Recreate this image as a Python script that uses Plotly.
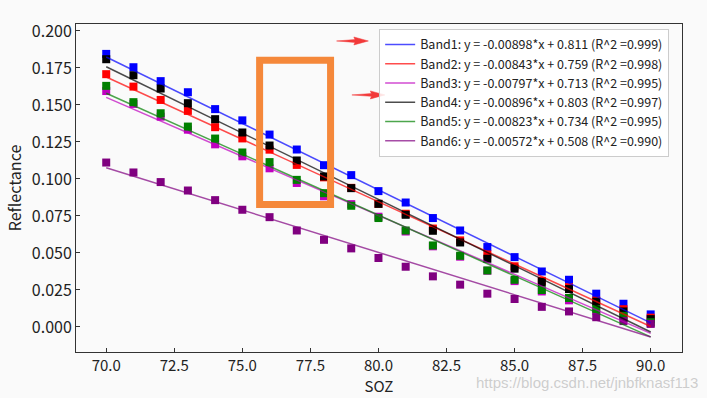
import plotly.graph_objects as go

# ---------------- data ----------------
soz = [70, 71, 72, 73, 74, 75, 76, 77, 78, 79, 80, 81, 82, 83, 84, 85, 86, 87, 88, 89, 90]

band1 = [0.1845, 0.1755, 0.1661, 0.1586, 0.1472, 0.1396, 0.1300, 0.1199, 0.1093, 0.1026, 0.0918,
         0.0841, 0.0736, 0.0652, 0.0540, 0.0472, 0.0375, 0.0319, 0.0225, 0.0157, 0.0085]
band2 = [0.1708, 0.1624, 0.1534, 0.1460, 0.1350, 0.1274, 0.1198, 0.1095, 0.1011, 0.0940, 0.0832,
         0.0765, 0.0665, 0.0585, 0.0490, 0.0410, 0.0312, 0.0269, 0.0178, 0.0120, 0.0063]
band3 = [0.1594, 0.1507, 0.1421, 0.1333, 0.1234, 0.1153, 0.1072, 0.0973, 0.0883, 0.0830, 0.0745,
         0.0645, 0.0545, 0.0475, 0.0380, 0.0310, 0.0240, 0.0180, 0.0110, 0.0060, 0.0025]
band4 = [0.1809, 0.1701, 0.1611, 0.1512, 0.1404, 0.1314, 0.1226, 0.1125, 0.1017, 0.0938, 0.0832,
         0.0758, 0.0650, 0.0571, 0.0461, 0.0394, 0.0304, 0.0256, 0.0171, 0.0105, 0.0053]
band5 = [0.1629, 0.1519, 0.1444, 0.1354, 0.1273, 0.1179, 0.1114, 0.0994, 0.0904, 0.0819, 0.0736,
         0.0652, 0.0551, 0.0481, 0.0382, 0.0319, 0.0250, 0.0196, 0.0122, 0.0075, 0.0032]
band6 = [0.1111, 0.1044, 0.0979, 0.0922, 0.0857, 0.0792, 0.0742, 0.0652, 0.0589, 0.0531, 0.0466,
         0.0407, 0.0342, 0.0286, 0.0225, 0.0189, 0.0136, 0.0105, 0.0066, 0.0040, 0.0021]

band_names = ["Band1", "Band2", "Band3", "Band4", "Band5", "Band6"]
slopes = [-0.00898, -0.00843, -0.00797, -0.00896, -0.00823, -0.00572]
intercepts = [0.811, 0.759, 0.713, 0.803, 0.734, 0.508]
r2 = [0.999, 0.998, 0.995, 0.997, 0.995, 0.990]

x_ticks = [70.0, 72.5, 75.0, 77.5, 80.0, 82.5, 85.0, 87.5, 90.0]
y_ticks = [0.000, 0.025, 0.050, 0.075, 0.100, 0.125, 0.150, 0.175, 0.200]

# ---------------- style ----------------
colors = ["#0000ff", "#ff0000", "#bf00bf", "#000000", "#008000", "#800080"]
FONT = "Noto Sans CJK SC, Noto Sans, sans-serif"
W, H = 707, 398
L, R, T, B = 76, 682.3, 24, 352.3  # plot area in pixels


def px(xp):
    return (xp - L) / (R - L)


def py(yp):
    return (B - yp) / (B - T)


series = [band1, band2, band3, band4, band5, band6]

fig = go.Figure()

# markers first (drawn below fit lines like matplotlib zorder)
for vals, c in zip(series, colors):
    fig.add_trace(go.Scatter(
        x=soz, y=vals, mode="markers",
        marker=dict(symbol="square", size=8, color=c, line=dict(width=0)),
        showlegend=False, hoverinfo="x+y"))

# fitted lines
for name, s, b, r, c in zip(band_names, slopes, intercepts, r2, colors):
    xs = [soz[0], soz[-1]]
    ys = [s * xv + b for xv in xs]
    label = f"{name}: y = {s:.5f}*x + {b:.3f} (R^2 ={r:.3f})"
    fig.add_trace(go.Scatter(
        x=xs, y=ys, mode="lines", name=label,
        line=dict(color=c, width=1.5), opacity=0.7))

# ---------------- annotations drawn on the picture ----------------
shapes = []
# orange rectangle
shapes.append(dict(type="rect", xref="paper", yref="paper",
                   x0=px(259.7), x1=px(330.7), y0=py(204.7), y1=py(60.3),
                   line=dict(color="#f5883a", width=7), fillcolor="rgba(0,0,0,0)", layer="above"))


def arrow_path(tail_x, tip_x, yc):
    hb = tip_x - 14.5
    pts = [(tail_x, yc), (hb + 1, yc - 1.4), (hb, yc - 4), (tip_x, yc),
           (hb, yc + 4), (hb + 1, yc + 1.4)]
    d = "M " + " L ".join(f"{px(a):.5f},{py(b):.5f}" for a, b in pts) + " Z"
    return d


for tail_x, tip_x, yc in [(336.7, 368.5, 41), (352, 385, 95)]:
    shapes.append(dict(type="path", xref="paper", yref="paper",
                       path=arrow_path(tail_x, tip_x, yc),
                       fillcolor="#f23a3a", line=dict(color="#f23a3a", width=0.5), layer="above"))

fig.update_layout(
    width=W, height=H,
    margin=dict(l=L, r=W - R, t=T, b=H - B, autoexpand=False),
    paper_bgcolor="#fafafa", plot_bgcolor="#fafafa",
    font=dict(family=FONT, color="#222222", size=16),
    shapes=shapes,
    legend=dict(x=px(379.3), y=py(29), xanchor="left", yanchor="top",
                bgcolor="rgba(255,255,255,0.85)", bordercolor="#cccccc", borderwidth=1,
                font=dict(family=FONT, size=12.5, color="#222222")),
    xaxis=dict(range=[68.89, 91.15], tickvals=x_ticks,
               ticktext=[f"{v:.1f}" for v in x_ticks],
               ticks="inside", ticklen=4, tickcolor="#333333",
               showline=True, linecolor="#333333", linewidth=1, mirror=True,
               showgrid=False, zeroline=False, automargin=False,
               tickfont=dict(size=15), title=dict(text="SOZ", font=dict(size=15), standoff=0)),
    yaxis=dict(range=[-0.0169, 0.2047], tickvals=y_ticks,
               ticktext=[f"{v:.3f}" for v in y_ticks],
               ticks="inside", ticklen=4, tickcolor="#333333",
               showline=True, linecolor="#333333", linewidth=1, mirror=True,
               showgrid=False, zeroline=False, automargin=False,
               tickfont=dict(size=16), title=dict(text="Reflectance", font=dict(size=16), standoff=6)),
    annotations=[dict(text="https://blog.csdn.net/jnbfknasf113", xref="paper", yref="paper",
                      x=px(700), y=py(383), xanchor="right", yanchor="middle", showarrow=False,
                      font=dict(family="Liberation Sans, Arial, sans-serif", size=15,
                                color="rgba(190,190,190,0.75)"))],
)

fig.write_html("out.html", config={"displayModeBar": False},
               post_script="document.body.style.margin='0px';document.body.style.background='#fafafa';")
